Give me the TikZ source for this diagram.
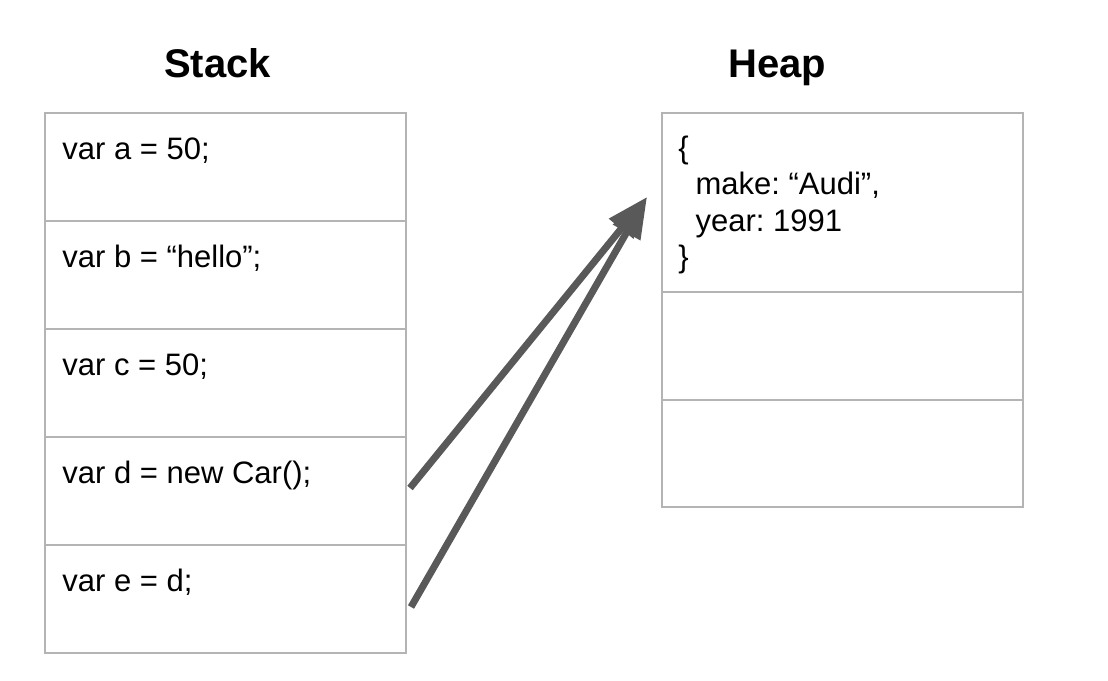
\documentclass[tikz,border=0pt]{standalone}
\usepackage{fontspec}
\setmainfont{Liberation Sans}
\usetikzlibrary{positioning,arrows.meta}
\definecolor{boxgray}{HTML}{B4B4B4}
\definecolor{arrowgray}{HTML}{595959}

\begin{document}
\begin{tikzpicture}[x=0.5pt,y=-0.5pt]
            \tikzset{
	cell/.style={draw=boxgray, line width=1pt, minimum width=180.5pt, minimum height=54pt, inner sep=0pt, outer sep=0pt},
	code/.style={font=\fontsize{15.5}{18.25}\selectfont\frenchspacing, inner sep=0pt},
	title/.style={font=\fontsize{20}{24}\selectfont\bfseries, anchor=base, inner sep=0pt},
	pointer/.style={draw=arrowgray, line width=3.5pt, -{Triangle[length=20.5pt, width=15pt]}}
}
\useasboundingbox (0,0) rectangle (1108,680);

\node[cell, anchor=north west] (a) at (45,113) {};
\node[cell, below=0pt of a] (b) {};
\node[cell, below=0pt of b] (c) {};
\node[cell, below=0pt of c] (d) {};
\node[cell, below=0pt of d] (e) {};

\node[cell, anchor=north west, minimum height=89.5pt] (h1) at (662,113) {};
\node[cell, below=0pt of h1] (h2) {};
\node[cell, below=0pt of h2, minimum height=53.5pt] (h3) {};

\node[title] (stack) at ([xshift=-4pt, yshift=18pt]a.north) {Stack};
\node[title] (heap) at ([xshift=-32.5pt, yshift=18pt]h1.north) {Heap};

\foreach \c/\t in {a/{var a = 50;}, b/{var b = “hello”;}, c/{var c = 50;}, d/{var d = new Car();}, e/{var e = d;}}
	\node[code, anchor=base west] (\c-text) at ([xshift=8.5pt, yshift=-23pt]\c.north west) {\t};

\node[code, anchor=north west, align=left] (car) at ([xshift=8pt, yshift=-11.25pt]h1.north west)
	{\{\\ ~~make: “Audi”,\\ ~~year: 1991\\ \}};

\coordinate (tip) at ([xshift=-7.5pt, yshift=2.75pt]h1.west);
\draw[pointer] ([xshift=2pt, yshift=1.5pt]d.east) -- (tip);
\draw[pointer] ([xshift=2.5pt, yshift=-4pt]e.east) -- (tip);
        \end{tikzpicture}
\end{document}
